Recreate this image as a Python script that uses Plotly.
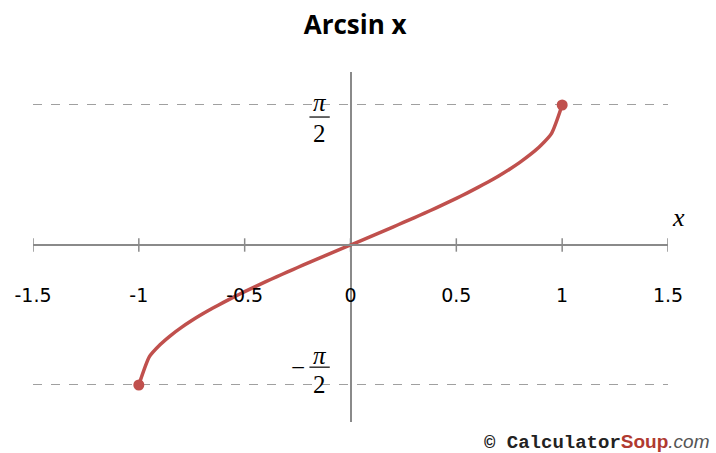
import plotly.graph_objects as go

# Sampled points of y = arcsin(x) on [-1, 1]
x_vals = [-1.0, -0.95, -0.9, -0.85, -0.8, -0.75, -0.7, -0.65, -0.6, -0.55, -0.5,
          -0.45, -0.4, -0.35, -0.3, -0.25, -0.2, -0.15, -0.1, -0.05, 0.0,
          0.05, 0.1, 0.15, 0.2, 0.25, 0.3, 0.35, 0.4, 0.45, 0.5,
          0.55, 0.6, 0.65, 0.7, 0.75, 0.8, 0.85, 0.9, 0.95, 1.0]
y_vals = [-1.5708, -1.2532, -1.1198, -1.0160, -0.9273, -0.8481, -0.7754, -0.7076,
          -0.6435, -0.5824, -0.5236, -0.4668, -0.4115, -0.3576, -0.3047, -0.2527,
          -0.2014, -0.1506, -0.1002, -0.0500, 0.0,
          0.0500, 0.1002, 0.1506, 0.2014, 0.2527, 0.3047, 0.3576, 0.4115, 0.4668,
          0.5236, 0.5824, 0.6435, 0.7076, 0.7754, 0.8481, 0.9273, 1.0160, 1.1198,
          1.2532, 1.5708]

x_ticks = [-1.5, -1, -0.5, 0, 0.5, 1, 1.5]
x_tick_labels = ["-1.5", "-1", "-0.5", "0", "0.5", "1", "1.5"]
y_bounds = [-1.5708, 1.5708]

Y_MIN, Y_MAX = -1.986, 1.941
axis_pos = -Y_MIN / (Y_MAX - Y_MIN)

CURVE = "#c0504d"
AXIS = "#8a8a8a"

fig = go.Figure()

# small tick marks crossing the x axis
tx, ty = [], []
for t in x_ticks:
    tx += [t, t, None]
    ty += [-0.075, 0.075, None]
fig.add_trace(go.Scatter(x=tx, y=ty, mode="lines",
                         line=dict(color=AXIS, width=1.5),
                         hoverinfo="skip", showlegend=False))

# the arcsin curve
fig.add_trace(go.Scatter(x=x_vals, y=y_vals, mode="lines",
                         line=dict(color=CURVE, width=3.5, shape="spline", smoothing=0.6),
                         showlegend=False))
# closed endpoints
fig.add_trace(go.Scatter(x=[x_vals[0], x_vals[-1]], y=[y_vals[0], y_vals[-1]],
                         mode="markers",
                         marker=dict(color=CURVE, size=11),
                         showlegend=False))

fig.update_layout(
    width=716, height=453,
    margin=dict(l=33, r=48, t=72, b=31),
    paper_bgcolor="white", plot_bgcolor="white",
    title=dict(text="<b>Arcsin x</b>", x=0.496, xanchor="center",
               y=0.945, yanchor="middle",
               font=dict(family="Open Sans", size=26, color="black")),
    xaxis=dict(range=[-1.5, 1.5], anchor="free", position=axis_pos,
               showline=True, linecolor=AXIS, linewidth=1.5,
               zeroline=True, zerolinecolor=AXIS, zerolinewidth=1.5,
               showgrid=False, ticks="", tickvals=x_ticks, ticktext=x_tick_labels,
               ticklabelstandoff=33,
               tickfont=dict(family="DejaVu Sans", size=19, color="black")),
    yaxis=dict(range=[Y_MIN, Y_MAX], showticklabels=False, zeroline=False,
               tickvals=y_bounds, showgrid=True, gridcolor="#a0a0a0",
               gridwidth=1, griddash="dash", ticks=""),
)

# fraction labels for ±pi/2
ann_font = dict(family="Liberation Serif", size=25, color="black")
LX = -0.146
for val, offs, sign in [(y_bounds[1], (0.03, -0.135, -0.32), ""),
                        (y_bounds[0], (0.335, 0.2, 0.0), "−")]:
    p_off, bar_off, two_off = offs
    fig.add_annotation(x=LX, y=val + p_off, xref="x", yref="y",
                       text="<i>π</i>", showarrow=False, font=ann_font)
    fig.add_annotation(x=LX, y=val + two_off, xref="x", yref="y",
                       text="2", showarrow=False, font=ann_font)
    fig.add_shape(type="line", xref="x", yref="y",
                  x0=LX - 0.048, x1=LX + 0.048,
                  y0=val + bar_off, y1=val + bar_off,
                  line=dict(color="black", width=1.2))
    if sign:
        fig.add_annotation(x=LX - 0.1, y=val + bar_off, xref="x", yref="y",
                           text=sign, showarrow=False, font=ann_font)

# axis variable label
fig.add_annotation(x=1.016, y=0.583, xref="paper", yref="paper", text="<i>x</i>",
                   showarrow=False, xanchor="center", yanchor="middle",
                   font=dict(family="Liberation Serif", size=26, color="black"))

# site credit
fig.add_annotation(
    x=1.07, y=-0.058, xref="paper", yref="paper", showarrow=False,
    xanchor="right", yanchor="middle",
    text=("<span style='font-family:Liberation Mono;font-weight:bold;color:#222'>"
          "© Calculator</span>"
          "<span style='font-family:Liberation Sans;font-weight:bold;color:#b03a30'>Soup</span>"
          "<span style='font-family:Liberation Sans;font-style:italic;color:#555'>.com</span>"),
    font=dict(size=19))

fig.write_html("out.html")
